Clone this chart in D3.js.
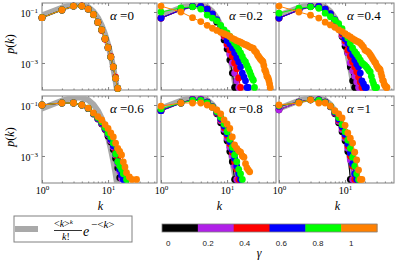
<!DOCTYPE html>
<html><head><meta charset="utf-8">
<script src="https://cdn.jsdelivr.net/npm/d3@7"></script>
<style>body{margin:0;background:#fff} svg{display:block}</style>
</head><body>
<svg id="c" width="395" height="264"></svg>
<script>
// ---------- data ----------
const alphaValues = [0, 0.2, 0.4, 0.6, 0.8, 1];
const gammaValues = [0, 0.2, 0.4, 0.6, 0.8, 1];
const gammaColors = ["#000000", "#b020e8", "#ff0000", "#0000ff", "#00ff00", "#ff8000"];
const colorbarTickLabels = ["0", "0.2", "0.4", "0.6", "0.8", "1"];
const xTickValues = [1, 10];
const xTickExponents = ["0", "1"];
const xMinorTicks = [2, 3, 4, 5, 6, 7, 8, 9, 20, 30, 40, 50];
const yTickValues = [0.1, 0.001];
const yTickExponents = ["\u22121", "\u22123"];

// Poisson reference p(k), k = 1..15 (gray band)
const poissonTheory = [0.073, 0.147, 0.195, 0.195, 0.156, 0.104, 0.060, 0.030, 0.0132, 0.0053, 0.0019, 0.00064, 0.0002, 0.000056, 0.000015];

// p(k) for k = 1..n, one array per gamma (0, 0.2, 0.4, 0.6, 0.8, 1)
const alpha00 = [
  [0.06, 0.12, 0.17, 0.17, 0.13, 0.08, 0.04, 0.02, 0.009, 0.004, 0.0017, 0.0007, 0.00025, 0.0001],
  [0.06, 0.12, 0.17, 0.17, 0.13, 0.08, 0.04, 0.02, 0.009, 0.004, 0.0017, 0.0007, 0.00025, 0.0001],
  [0.06, 0.12, 0.17, 0.175, 0.13, 0.078, 0.038, 0.019, 0.0085, 0.0042, 0.0018, 0.0007, 0.00028, 0.0001],
  [0.06, 0.12, 0.17, 0.17, 0.13, 0.08, 0.04, 0.02, 0.009, 0.004, 0.0017, 0.0007, 0.00025, 0.0001],
  [0.06, 0.12, 0.17, 0.17, 0.13, 0.08, 0.04, 0.02, 0.009, 0.004, 0.0017, 0.0007, 0.00025, 0.0001],
  [0.06, 0.12, 0.17, 0.17, 0.13, 0.08, 0.04, 0.02, 0.009, 0.004, 0.0017, 0.0007, 0.00025, 0.0001]
];
const alpha02 = [
  [0.058, 0.12, 0.165, 0.165, 0.13, 0.08, 0.04, 0.018, 0.008, 0.0035, 0.0013, 0.0004, 0.00011],
  [0.058, 0.12, 0.165, 0.165, 0.13, 0.082, 0.045, 0.022, 0.011, 0.005, 0.0022, 0.001, 0.0004, 0.0002, 0.00011],
  [0.058, 0.12, 0.165, 0.165, 0.13, 0.082, 0.047, 0.024, 0.012, 0.0055, 0.0032, 0.0018, 0.001, 0.0006, 0.00026, 0.00011],
  [0.058, 0.12, 0.165, 0.165, 0.13, 0.085, 0.05, 0.027, 0.014, 0.0075, 0.0055, 0.0039, 0.0025, 0.0016, 0.0011, 0.0007, 0.0004, 0.00028, 0.0002, 0.00011, 0.00011],
  [0.1, 0.145, 0.16, 0.13, 0.076, 0.058, 0.045, 0.03, 0.02, 0.015, 0.011, 0.008, 0.006, 0.0045, 0.0033, 0.0025, 0.0018, 0.0013, 0.0011, 0.0008, 0.0006, 0.00045, 0.00033, 0.00025, 0.00021, 0.00011],
  [0.17, 0.1, 0.06, 0.042, 0.03, 0.023, 0.019, 0.016, 0.014, 0.0125, 0.011, 0.0093, 0.0085, 0.0075, 0.007, 0.0065, 0.006, 0.0055, 0.0052, 0.005, 0.0045, 0.0043, 0.004, 0.0039, 0.0037, 0.003, 0.0028, 0.0025, 0.002, 0.0018, 0.0016, 0.0014, 0.0013, 0.0012, 0.0011, 0.0008, 0.00054, 0.0005, 0.0004, 0.0003, 0.00028, 0.00025, 0.0002, 0.00015, 0.00011]
];
const alpha04 = [
  [0.058, 0.12, 0.165, 0.165, 0.13, 0.082, 0.045, 0.022, 0.011, 0.0045, 0.0025, 0.0007, 0.0002, 0.00011],
  [0.058, 0.12, 0.165, 0.165, 0.13, 0.082, 0.046, 0.024, 0.012, 0.006, 0.0025, 0.001, 0.0005, 0.0003, 0.00018, 0.00011],
  [0.058, 0.12, 0.165, 0.165, 0.13, 0.084, 0.048, 0.026, 0.014, 0.0075, 0.0032, 0.0018, 0.0011, 0.0007, 0.00045, 0.00028, 0.00018, 0.00011],
  [0.058, 0.12, 0.165, 0.165, 0.13, 0.086, 0.05, 0.028, 0.016, 0.009, 0.0061, 0.0035, 0.0021, 0.0013, 0.0009, 0.0007, 0.0004, 0.0002, 0.00015, 0.00011, 0.00011],
  [0.09, 0.14, 0.16, 0.14, 0.09, 0.065, 0.048, 0.035, 0.022, 0.0135, 0.0095, 0.006, 0.0039, 0.0028, 0.0022, 0.0017, 0.0013, 0.001, 0.0009, 0.0008, 0.0007, 0.0006, 0.0005, 0.00045, 0.0003, 0.0002, 0.00015, 0.00011, 0.00011, 0.00011],
  [0.17, 0.1, 0.075, 0.058, 0.04, 0.031, 0.025, 0.02, 0.017, 0.014, 0.012, 0.0105, 0.009, 0.008, 0.0072, 0.0067, 0.006, 0.005, 0.0042, 0.0032, 0.003, 0.0028, 0.0025, 0.0021, 0.0018, 0.0015, 0.0013, 0.0011, 0.001, 0.0008, 0.0007, 0.0006, 0.0006, 0.00054, 0.0004, 0.0003, 0.00021, 0.0002, 0.00015, 0.00013, 0.00012, 0.00011, 0.00011]
];
const alpha06 = [
  [0.1, 0.12, 0.12, 0.1, 0.072, 0.044, 0.028, 0.018, 0.011, 0.006, 0.0035, 0.0018, 0.0008, 0.00034, 0.00014],
  [0.1, 0.12, 0.12, 0.1, 0.073, 0.045, 0.029, 0.019, 0.0115, 0.007, 0.004, 0.0022, 0.0011, 0.0005, 0.00025, 0.00013],
  [0.1, 0.12, 0.12, 0.1, 0.074, 0.046, 0.03, 0.02, 0.012, 0.0075, 0.0045, 0.0026, 0.0014, 0.0009, 0.0005, 0.0003, 0.0002, 0.00014],
  [0.1, 0.12, 0.12, 0.1, 0.074, 0.046, 0.03, 0.02, 0.012, 0.0075, 0.0045, 0.0025, 0.0012, 0.0006, 0.0003, 0.00018, 0.00012],
  [0.1, 0.12, 0.12, 0.1, 0.075, 0.047, 0.032, 0.022, 0.013, 0.008, 0.0055, 0.0032, 0.0012, 0.0006, 0.0004, 0.0003, 0.0002, 0.00024, 0.00012],
  [0.1, 0.12, 0.12, 0.1, 0.076, 0.049, 0.035, 0.026, 0.017, 0.012, 0.008, 0.0056, 0.0032, 0.002, 0.0015, 0.0011, 0.00058, 0.00037, 0.00022, null, 0.00015, null, 0.00012, null, null, null, 0.00012]
];
const alpha08 = [
  [0.06, 0.12, 0.165, 0.165, 0.13, 0.082, 0.045, 0.02, 0.009, 0.004, 0.0015, 0.0006, 0.00012],
  [0.06, 0.12, 0.165, 0.17, 0.13, 0.085, 0.048, 0.024, 0.011, 0.005, 0.0022, 0.001, 0.0004, 0.00012],
  [0.06, 0.12, 0.16, 0.16, 0.13, 0.086, 0.05, 0.027, 0.013, 0.0065, 0.003, 0.0014, 0.0006, 0.0003, 0.00012],
  [0.06, 0.12, 0.16, 0.16, 0.13, 0.086, 0.052, 0.029, 0.015, 0.0075, 0.0036, 0.0017, 0.0008, 0.0004, 0.0002, 0.00012],
  [0.07, 0.12, 0.15, 0.15, 0.12, 0.085, 0.055, 0.033, 0.018, 0.009, 0.0045, 0.0022, 0.0011, 0.0006, 0.0003, 0.0002, 0.00012],
  [0.09, 0.12, 0.12, 0.12, 0.1, 0.08, 0.064, 0.045, 0.026, 0.018, 0.012, 0.0056, 0.0027, 0.002, 0.0016, 0.0014, 0.001, 0.0009, 0.0005, 0.00034, 0.00028, 0.00024]
];
const alpha10 = [
  [0.065, 0.13, 0.16, 0.16, 0.13, 0.085, 0.045, 0.02, 0.009, 0.004, 0.0015, 0.00012],
  [0.065, 0.13, 0.16, 0.16, 0.13, 0.086, 0.048, 0.023, 0.011, 0.005, 0.002, 0.0007, 0.00012],
  [0.09, 0.13, 0.16, 0.16, 0.13, 0.087, 0.05, 0.026, 0.013, 0.006, 0.0025, 0.001, 0.0004, 0.00012],
  [0.09, 0.13, 0.16, 0.16, 0.13, 0.088, 0.052, 0.028, 0.014, 0.007, 0.003, 0.0013, 0.0005, 0.0002, 0.00012],
  [0.095, 0.125, 0.16, 0.15, 0.125, 0.09, 0.056, 0.032, 0.017, 0.009, 0.0042, 0.002, 0.0009, 0.0004, 0.0002, 0.00012],
  [0.1, 0.12, 0.16, 0.12, 0.12, 0.09, 0.06, 0.045, 0.031, 0.016, 0.008, 0.005, 0.0032, 0.0014, 0.0007, 0.00028, 0.00012, 0.00012]
];
const panelData = [alpha00, alpha02, alpha04, alpha06, alpha08, alpha10];

// ---------- layout ----------
const svg = d3.select("#c");
const panelLefts = [42, 161, 279];
const panelTops = [3, 96];
const PW = 115, PH = 87;
const frameColor = "#808080";
const serif = "Liberation Serif, DejaVu Serif, serif";
const sans = "Liberation Sans, Arial, sans-serif";

function supLabel(sel, base, exp, size) {
  sel.text(null);
  sel.append("tspan").text(base).attr("font-size", size);
  sel.append("tspan").text(exp).attr("font-size", size * 0.7).attr("dy", -size * 0.4);
}

const defs = svg.append("defs");

panelData.forEach((series, i) => {
  const r = Math.floor(i / 3), c = i % 3;
  const left = panelLefts[c], top = panelTops[r];
  const x = d3.scaleLog().domain([1, 55]).range([left, left + PW]);
  const y = d3.scaleLog().domain([Math.pow(10, -4.06), Math.pow(10, -0.647)]).range([top + PH, top]);
  const g = svg.append("g");

  defs.append("clipPath").attr("id", "clip" + i)
    .append("rect").attr("x", left).attr("y", top).attr("width", PW).attr("height", PH);

  // frame
  g.append("rect").attr("x", left).attr("y", top).attr("width", PW).attr("height", PH)
    .attr("fill", "#fff").attr("stroke", frameColor).attr("stroke-width", 1);

  // axes (ticks inward)
  const styleAxis = (ax) => { ax.select(".domain").remove(); ax.selectAll("line").attr("stroke", frameColor); };
  g.append("g").attr("transform", `translate(0,${top + PH})`)
    .call(d3.axisBottom(x).tickValues(xTickValues).tickSize(-3).tickFormat("")).call(styleAxis);
  g.append("g").attr("transform", `translate(0,${top + PH})`)
    .call(d3.axisBottom(x).tickValues(xMinorTicks).tickSize(-1.5).tickFormat("")).call(styleAxis);
  g.append("g").attr("transform", `translate(0,${top})`)
    .call(d3.axisTop(x).tickValues(xTickValues).tickSize(-3).tickFormat("")).call(styleAxis);
  g.append("g").attr("transform", `translate(0,${top})`)
    .call(d3.axisTop(x).tickValues(xMinorTicks).tickSize(-1.5).tickFormat("")).call(styleAxis);
  g.append("g").attr("transform", `translate(${left},0)`)
    .call(d3.axisLeft(y).tickValues(yTickValues).tickSize(-3).tickFormat("")).call(styleAxis);
  g.append("g").attr("transform", `translate(${left + PW},0)`)
    .call(d3.axisRight(y).tickValues(yTickValues).tickSize(-3).tickFormat("")).call(styleAxis);

  if (r === 1) {
    const ax = g.append("g").attr("transform", `translate(0,${top + PH})`)
      .call(d3.axisBottom(x).tickValues(xTickValues).tickSize(0).tickPadding(4)
        .tickFormat((d, j) => xTickExponents[j]));
    ax.select(".domain").remove();
    ax.selectAll("text").attr("font-family", serif).attr("fill", "#000")
      .each(function (d, j) { supLabel(d3.select(this), "10", xTickExponents[j], 10); });
    g.append("text").attr("x", left + PW / 2 + 1).attr("y", top + PH + 27)
      .attr("text-anchor", "middle").attr("font-family", serif).attr("font-style", "italic")
      .attr("font-size", 12).text("k");
  }
  if (c === 0) {
    const ax = g.append("g").attr("transform", `translate(${left},0)`)
      .call(d3.axisLeft(y).tickValues(yTickValues).tickSize(0).tickPadding(4)
        .tickFormat((d, j) => yTickExponents[j]));
    ax.select(".domain").remove();
    ax.selectAll("text").attr("font-family", serif).attr("fill", "#000").attr("dy", "0.45em")
      .each(function (d, j) { supLabel(d3.select(this), "10", yTickExponents[j], 10); });
    g.append("text").attr("transform", `translate(14,${top + 41}) rotate(-90)`)
      .attr("text-anchor", "middle").attr("font-family", serif).attr("font-size", 12)
      .html("<tspan font-style='italic'>p</tspan>(<tspan font-style='italic'>k</tspan>)");
  }

  const plot = g.append("g").attr("clip-path", `url(#clip${i})`);
  // Poisson band
  const theoryPts = poissonTheory.map((p, k) => [k + 1, p]);
  plot.append("path").datum(theoryPts)
    .attr("fill", "none").attr("stroke", "#a9a9a9").attr("stroke-width", 6)
    .attr("stroke-linejoin", "round").attr("stroke-linecap", "round")
    .attr("d", d3.line().x(d => x(d[0])).y(d => y(d[1])));

  const marks = g.append("g");
  series.forEach((arr, s) => {
    const pts = arr.map((p, k) => [k + 1, p]).filter(d => d[1] != null);
    marks.append("path").datum(pts)
      .attr("fill", "none").attr("stroke", gammaColors[s]).attr("stroke-width", 1)
      .attr("d", d3.line().x(d => x(d[0])).y(d => y(d[1])));
    marks.selectAll(null).data(pts).enter().append("circle")
      .attr("cx", d => x(d[0])).attr("cy", d => y(d[1])).attr("r", 3.4)
      .attr("fill", gammaColors[s]);
  });

  // alpha label
  g.append("text").attr("x", left + 68).attr("y", top + 17)
    .attr("font-family", serif).attr("font-size", 13)
    .html(`<tspan font-style='italic'>\u03b1</tspan> =${alphaValues[i]}`);
});

// ---------- legend (Poisson) ----------
const lg = svg.append("g");
lg.append("rect").attr("x", 14).attr("y", 216).attr("width", 118).attr("height", 26)
  .attr("fill", "#fff").attr("stroke", frameColor);
lg.append("line").attr("x1", 15).attr("x2", 38).attr("y1", 229).attr("y2", 229)
  .attr("stroke", "#a9a9a9").attr("stroke-width", 6);
lg.append("text").attr("x", 54).attr("y", 227).attr("font-family", serif).attr("font-size", 10)
  .html("&lt;<tspan font-style='italic'>k</tspan>&gt;<tspan font-size='7' dy='-3' font-style='italic'>k</tspan>");
lg.append("line").attr("x1", 54).attr("x2", 82).attr("y1", 230.5).attr("y2", 230.5)
  .attr("stroke", "#000").attr("stroke-width", 0.8);
lg.append("text").attr("x", 62).attr("y", 240).attr("font-family", serif).attr("font-size", 10)
  .html("<tspan font-style='italic'>k</tspan>!");
lg.append("text").attr("x", 83).attr("y", 236).attr("font-family", serif).attr("font-size", 14)
  .attr("font-style", "italic").text("e");
lg.append("text").attr("x", 91).attr("y", 228).attr("font-family", serif).attr("font-size", 11)
  .html("\u2212&lt;<tspan font-style='italic'>k</tspan>&gt;");

// ---------- colorbar ----------
const cb = svg.append("g");
const band = d3.scaleBand().domain(gammaValues).range([162, 377]).padding(0);
cb.selectAll("rect.seg").data(gammaValues).enter().append("rect")
  .attr("x", d => band(d)).attr("y", 224).attr("width", band.bandwidth() + 0.5).attr("height", 8)
  .attr("fill", (d, j) => gammaColors[j]);
cb.append("rect").attr("x", 162).attr("y", 224).attr("width", 215).attr("height", 8)
  .attr("fill", "none").attr("stroke", frameColor).attr("stroke-width", 0.8);
const cbScale = d3.scaleLinear().domain([0, 1]).range([166, 349]);
cb.selectAll("text.tl").data(gammaValues).enter().append("text")
  .attr("x", d => cbScale(d)).attr("y", 246).attr("font-family", sans).attr("font-size", 8)
  .attr("fill", "#222").text((d, j) => colorbarTickLabels[j]);
cb.append("text").attr("x", 259).attr("y", 257).attr("text-anchor", "middle")
  .attr("font-family", serif).attr("font-style", "italic").attr("font-size", 12).text("\u03b3");
</script>
</body></html>
